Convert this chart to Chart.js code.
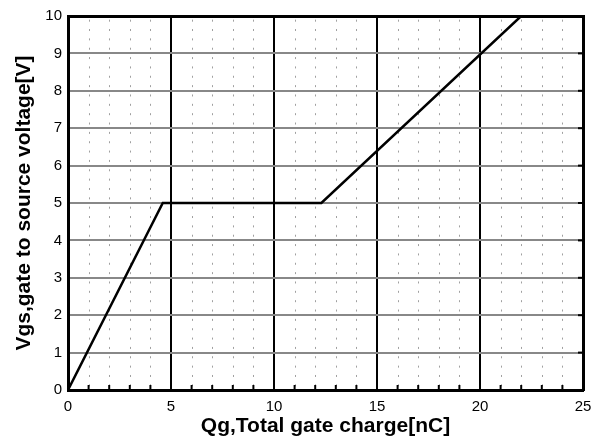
<!DOCTYPE html>
<html>
<head>
<meta charset="utf-8">
<script src="https://cdn.jsdelivr.net/npm/chart.js@4/dist/chart.umd.min.js"></script>
<style>
  html, body { margin: 0; padding: 0; background: #fff; }
  #wrap { width: 608px; height: 439px; }
</style>
</head>
<body>
<div id="wrap"><canvas id="chart"></canvas></div>
<script>
  // gate charge curve
  const qg = [0, 4.6, 12.3, 22.0];
  const vgs = [0, 5, 5, 10];
  const xTitle = "Qg,Total gate charge[nC]";
  const yTitle = "Vgs,gate to source voltage[V]";

  const points = qg.map((x, i) => ({ x: x, y: vgs[i] }));

  // minor dotted grid plus the small inward ticks
  const minorGrid = {
    id: "minorGrid",
    beforeDatasetsDraw(chart) {
      const ctx = chart.ctx;
      const xs = chart.scales.x, ys = chart.scales.y;
      const a = chart.chartArea;
      ctx.save();
      ctx.strokeStyle = "#a0a0a0";
      ctx.lineWidth = 1;
      for (let q = 1; q < 25; q++) {
        if (q % 5 === 0) continue;
        const px = Math.round(xs.getPixelForValue(q)) + 0.5;
        for (let v = 0.125; v < 10; v += 0.25) {
          const py = ys.getPixelForValue(v);
          ctx.beginPath();
          ctx.moveTo(px, py - 1);
          ctx.lineTo(px, py + 1);
          ctx.stroke();
        }
      }
      ctx.strokeStyle = "#000";
      ctx.lineWidth = 2;
      for (let q = 1; q < 25; q++) {
        const px = xs.getPixelForValue(q);
        ctx.beginPath();
        ctx.moveTo(px, a.bottom);
        ctx.lineTo(px, a.bottom - 5);
        ctx.stroke();
      }
      for (let v = 1; v < 10; v++) {
        const py = ys.getPixelForValue(v);
        ctx.beginPath();
        ctx.moveTo(a.right, py);
        ctx.lineTo(a.right - 5, py);
        ctx.stroke();
      }
      ctx.restore();
    }
  };

  new Chart(document.getElementById("chart"), {
    type: "scatter",
    data: {
      datasets: [{
        data: points,
        showLine: true,
        borderColor: "#000",
        borderWidth: 2.5,
        pointRadius: 0,
        fill: false
      }]
    },
    options: {
      responsive: true,
      maintainAspectRatio: false,
      animation: false,
      layout: { padding: { top: 16, right: 25, left: 0, bottom: 0 } },
      plugins: { legend: { display: false }, tooltip: { enabled: false } },
      scales: {
        x: {
          type: "linear",
          min: 0,
          max: 25,
          afterFit: (s) => { s.height = 49; },
          ticks: { stepSize: 5, color: "#000", padding: 8, font: { family: "Liberation Sans", size: 15 } },
          grid: {
            color: (c) => (c.tick && c.tick.value > 0 && c.tick.value < 25 ? "#000" : "rgba(0,0,0,0)"),
            lineWidth: 2,
            drawTicks: false
          },
          border: { display: true, color: "#000", width: 3 },
          title: {
            display: true,
            text: xTitle,
            color: "#000",
            padding: { top: 0, bottom: 0 },
            font: { family: "Liberation Sans", size: 21, weight: "bold" }
          }
        },
        y: {
          type: "linear",
          min: 0,
          max: 10,
          afterFit: (s) => { s.width = 68; },
          ticks: { stepSize: 1, color: "#000", padding: 6, font: { family: "Liberation Sans", size: 15 } },
          grid: {
            color: (c) => (c.tick && c.tick.value > 0 && c.tick.value < 10 ? "#888" : "rgba(0,0,0,0)"),
            lineWidth: 2,
            drawTicks: false
          },
          border: { display: true, color: "#000", width: 3 },
          title: {
            display: true,
            text: yTitle,
            color: "#000",
            padding: { top: 12, bottom: 0 },
            font: { family: "Liberation Sans", size: 21, weight: "bold" }
          }
        },
        x2: {
          type: "linear",
          position: "top",
          min: 0,
          max: 25,
          afterFit: (s) => { s.height = 0; },
          ticks: { display: false },
          grid: { display: false },
          border: { display: true, color: "#000", width: 3 }
        },
        y2: {
          type: "linear",
          position: "right",
          min: 0,
          max: 10,
          afterFit: (s) => { s.width = 0; },
          ticks: { display: false },
          grid: { display: false },
          border: { display: true, color: "#000", width: 3 }
        }
      }
    },
    plugins: [minorGrid]
  });
</script>
</body>
</html>
